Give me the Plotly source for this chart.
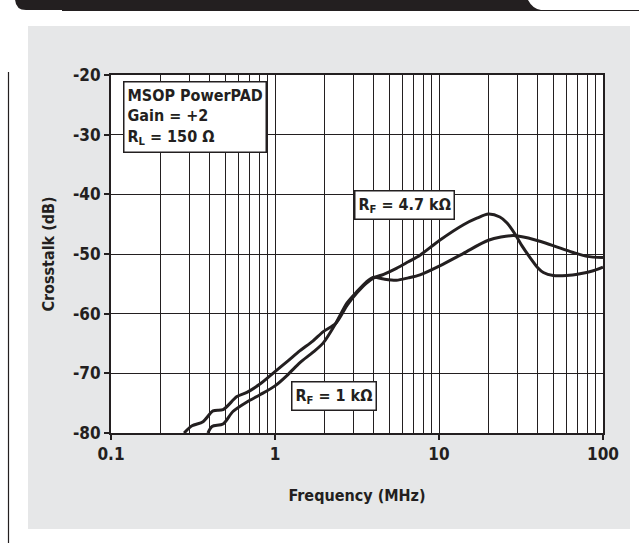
import plotly.graph_objects as go

# ---- data ----
freq_a = [0.279, 0.312, 0.364, 0.419, 0.482, 0.586, 0.674, 0.81, 1.0, 1.2, 1.42, 1.7,
          1.97, 2.35, 2.75, 3.16, 3.6, 4.0, 4.6, 5.5, 6.5, 7.66, 10.1, 14.1, 17.0, 20.0,
          23.5, 26.0, 29.0, 32.0, 35.9, 40.0, 43.3, 49.7, 60.0, 72.4, 85.0, 100.0]
db_a = [-80.0, -78.8, -78.1, -76.3, -76.1, -73.9, -73.2, -71.8, -69.7, -67.9, -66.2, -64.6,
        -63.0, -61.6, -58.6, -56.5, -54.9, -54.0, -53.4, -52.4, -51.3, -50.2, -47.7, -45.1,
        -44.0, -43.3, -43.8, -44.8, -46.6, -48.6, -50.6, -52.3, -53.1, -53.6, -53.6, -53.3,
        -52.9, -52.2]

freq_b = [0.39, 0.413, 0.482, 0.554, 0.674, 0.81, 1.0, 1.2, 1.42, 1.7, 1.97, 2.35, 2.75,
          3.16, 3.6, 4.0, 4.6, 5.5, 6.5, 7.66, 10.1, 14.1, 20.0, 28.3, 35.9, 45.0, 52.1,
          65.0, 79.7, 100.0]
db_b = [-80.0, -78.9, -78.5, -76.4, -74.8, -73.6, -72.1, -70.2, -68.2, -66.5, -64.9, -61.6,
        -58.2, -56.3, -54.7, -53.9, -54.2, -54.4, -54.0, -53.5, -52.0, -49.9, -47.7, -46.9,
        -47.4, -48.2, -48.8, -49.7, -50.4, -50.6]

x_tick_vals = [0.1, 1, 10, 100]
x_tick_text = ["0.1", "1", "10", "100"]
x_minor_vals = [m * d for d in (0.1, 1, 10) for m in range(2, 10)]
y_tick_vals = [-80, -70, -60, -50, -40, -30, -20]
y_tick_text = ["-80", "-70", "-60", "-50", "-40", "-30", "-20"]

label_box = "MSOP PowerPAD<br>Gain = +2<br>R<sub>L</sub> = 150 Ω"
label_a = "R<sub>F</sub> = 4.7 kΩ"
label_b = "R<sub>F</sub> = 1 kΩ"

# ---- layout geometry (pixels) ----
W, H = 639, 543
L, R, T, B = 111, 603, 75, 433
FONT = "DejaVu Sans Condensed, Liberation Sans Narrow, Arial Narrow, sans-serif"
INK = "#231f20"


def px(x):
    return (x - L) / (R - L)


def py(y):
    return (B - y) / (B - T)


fig = go.Figure()
for fx, fy in ((freq_a, db_a), (freq_b, db_b)):
    fig.add_trace(go.Scatter(x=fx, y=fy, mode="lines",
                             line=dict(color=INK, width=3, shape="spline", smoothing=0.8),
                             showlegend=False, hoverinfo="skip"))

shapes = [
    # grey panel
    dict(type="rect", xref="paper", yref="paper", x0=px(28), x1=px(630), y0=py(529), y1=py(26),
         fillcolor="#e6e7e8", line=dict(width=0), layer="below"),
    # white plot area
    dict(type="rect", xref="paper", yref="paper", x0=0, x1=1, y0=0, y1=1,
         fillcolor="white", line=dict(width=0), layer="below"),
    # header bar
    dict(type="path", xref="paper", yref="paper",
         path=(f"M {px(15)},{py(-2)} L {px(527)},{py(-2)} Q {px(532)},{py(9)} {px(541)},{py(10)} "
               f"L {px(26)},{py(10)} Q {px(15)},{py(10)} {px(15)},{py(-2)} Z"),
         fillcolor=INK, line=dict(width=0)),
    dict(type="line", xref="paper", yref="paper", x0=px(62), x1=px(639), y0=py(10.5), y1=py(10.5),
         line=dict(color=INK, width=1.2)),
    # left vertical rule
    dict(type="line", xref="paper", yref="paper", x0=px(8.5), x1=px(8.5), y0=py(72), y1=py(545),
         line=dict(color=INK, width=1.2)),
]

annotations = [
    dict(text=label_box, xref="paper", yref="paper", x=px(123), y=py(81), xanchor="left",
         yanchor="top", align="left", showarrow=False, bgcolor="white", bordercolor=INK,
         borderwidth=1.5, borderpad=3,
         font=dict(family=FONT, size=16, color=INK, weight="bold")),
    dict(text=label_a, xref="paper", yref="paper", x=px(404), y=py(204.5), xanchor="center",
         yanchor="middle", showarrow=False, bgcolor="white", bordercolor=INK,
         borderwidth=1.5, borderpad=3,
         font=dict(family=FONT, size=16, color=INK, weight="bold")),
    dict(text=label_b, xref="paper", yref="paper", x=px(333.5), y=py(396), xanchor="center",
         yanchor="middle", showarrow=False, bgcolor="white", bordercolor=INK,
         borderwidth=1.5, borderpad=3,
         font=dict(family=FONT, size=16, color=INK, weight="bold")),
]

fig.update_layout(
    width=W, height=H,
    margin=dict(l=L, r=W - R, t=T, b=H - B, pad=0),
    paper_bgcolor="white", plot_bgcolor="white",
    shapes=shapes, annotations=annotations,
    font=dict(family=FONT, color=INK),
    xaxis=dict(type="log", range=[-1, 2], tickvals=x_tick_vals, ticktext=x_tick_text,
               showgrid=True, gridcolor=INK, gridwidth=1,
               minor=dict(tickvals=x_minor_vals, showgrid=True, gridcolor=INK,
                          gridwidth=1, ticks=""),
               showline=True, linecolor=INK, linewidth=2, mirror=True,
               ticks="outside", ticklen=5, tickwidth=1.5, tickcolor=INK,
               tickfont=dict(family=FONT, size=17, color=INK, weight="bold"),
               title=dict(text="Frequency (MHz)", standoff=26,
                          font=dict(family=FONT, size=16, color=INK, weight="bold")),
               zeroline=False),
    yaxis=dict(range=[-80, -20], tickvals=y_tick_vals, ticktext=y_tick_text,
               showgrid=True, gridcolor=INK, gridwidth=1,
               showline=True, linecolor=INK, linewidth=2, mirror=True,
               ticks="outside", ticklen=5, tickwidth=1.5, tickcolor=INK,
               tickfont=dict(family=FONT, size=17, color=INK, weight="bold"),
               title=dict(text="Crosstalk (dB)", standoff=14,
                          font=dict(family=FONT, size=16, color=INK, weight="bold")),
               zeroline=False),
)

fig.write_html("out.html", config={"displayModeBar": False},
               post_script="document.body.style.margin='0';document.body.style.overflow='hidden';")
